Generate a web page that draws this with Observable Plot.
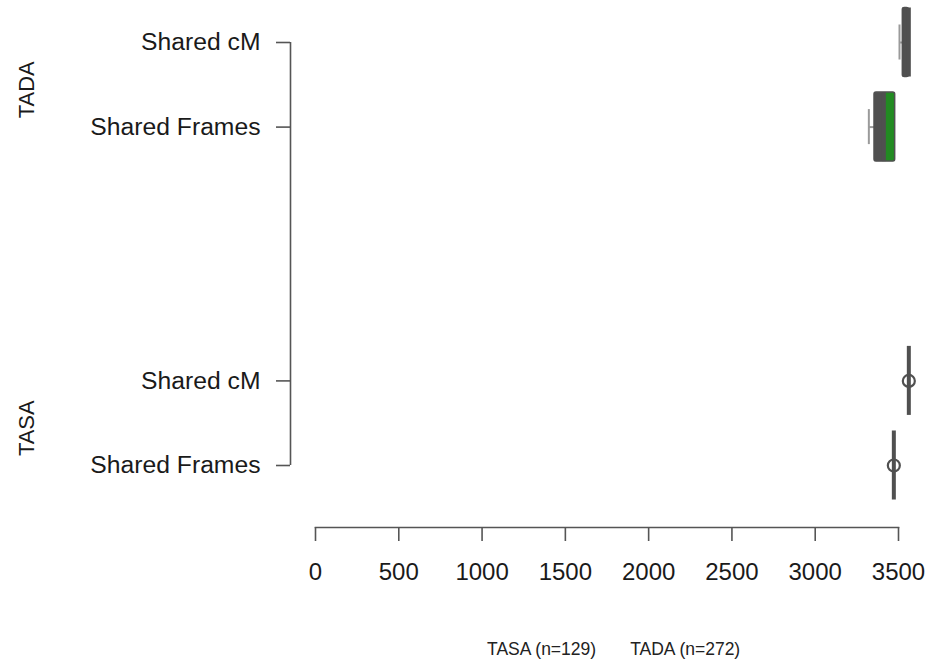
<!DOCTYPE html>
<html>
<head>
<meta charset="utf-8">
<script src="https://cdn.jsdelivr.net/npm/d3@7"></script>
<script src="https://cdn.jsdelivr.net/npm/@observablehq/plot@0.6"></script>
<style>
  body { margin: 0; background: #fff; font-family: Arial, "Liberation Sans", Helvetica, sans-serif; }
  #legend { height: 35px; padding-top: 7px; padding-left: 487px; font-size: 17.5px; color: #222; line-height: 35px; white-space: nowrap; }
  #legend span { margin-right: 34px; }
</style>
</head>
<body>
<div id="chart"></div>
<div id="legend"></div>
<script>
// ---- data ----
const groups = ["TADA", "TASA"];
const groupN = [272, 129];
const metrics = ["Shared cM", "Shared Frames"];
const rowGroup  = ["TADA", "TADA", "TASA", "TASA"];
const rowMetric = ["Shared cM", "Shared Frames", "Shared cM", "Shared Frames"];
const whiskerLow = [3506, 3322, 3562, 3472];
const q1         = [3526, 3356, 3562, 3472];
const median     = [3562, 3412, 3562, 3472];
const q3         = [3562, 3480, 3562, 3472];
const meanPt     = [NaN, NaN, 3562, 3472];
const xTicks = [0, 500, 1000, 1500, 2000, 2500, 3000, 3500];
const legendOrder = ["TASA", "TADA"];

// ---- build rows ----
const slotsPerGroup = 4; // two metric rows + two empty rows between groups
const rows = rowGroup.map((g, i) => ({
  group: g,
  metric: rowMetric[i],
  slot: groups.indexOf(g) * slotsPerGroup + metrics.indexOf(rowMetric[i]),
  lo: whiskerLow[i], q1: q1[i], median: median[i], q3: q3[i], mean: meanPt[i]
}));
const slots = rows.map(d => d.slot);
const slotLabel = new Map(rows.map(d => [d.slot, d.metric]));
const groupRows = groups.map(g => ({group: g, slot: d3.mean(rows.filter(r => r.group === g), r => r.slot)}));

const boxHalf = 0.408, capHalf = 0.207;
const dark = "#505050", green = "#228B22", whisk = "#9a9a9a", axisCol = "#555";

const height = 625;
const chart = Plot.plot({
  width: 925,
  height,
  marginLeft: 315,
  marginRight: 27,
  marginTop: 0,
  marginBottom: height - 527,
  style: { fontFamily: "Arial, 'Liberation Sans', Helvetica, sans-serif", color: "#1a1a1a", background: "#fff" },
  x: { domain: [0, 3500] },
  y: { type: "linear", domain: [d3.min(slots), d3.max(slots)], range: [42, 465] },
  marks: [
    // axes
    Plot.frame({ anchor: "bottom", stroke: axisCol, strokeWidth: 1.6 }),
    Plot.axisX({ ticks: xTicks, tickSize: 14, tickPadding: 21, fontSize: 24, stroke: axisCol, strokeWidth: 1.6, label: null, tickFormat: d => String(d) }),
    Plot.ruleX([0], { y1: d3.min(slots), y2: d3.max(slots), dx: -25, stroke: axisCol, strokeWidth: 1.6 }),
    Plot.axisY({ ticks: slots, tickFormat: s => slotLabel.get(s), tickSize: 14, tickPadding: 16, dx: -25, fontSize: 24.7, stroke: axisCol, strokeWidth: 1.6, label: null }),
    Plot.text(groupRows, { x: 0, y: "slot", text: "group", rotate: -90, dx: -289, dy: 5, fontSize: 22, fill: "#1a1a1a" }),
    // whiskers
    Plot.ruleY(rows, { y: "slot", x1: "lo", x2: "q1", stroke: whisk, strokeWidth: 2 }),
    Plot.ruleX(rows, { x: "lo", y1: d => d.slot - capHalf, y2: d => d.slot + capHalf, stroke: whisk, strokeWidth: 2 }),
    // boxes
    Plot.rect(rows, { x1: "median", x2: "q3", y1: d => d.slot - boxHalf, y2: d => d.slot + boxHalf, fill: green }),
    Plot.rect(rows, { x1: "q1", x2: "median", y1: d => d.slot - boxHalf, y2: d => d.slot + boxHalf, fill: dark }),
    Plot.rect(rows.filter(d => d.q3 > d.q1), { x1: "q1", x2: "q3", y1: d => d.slot - boxHalf, y2: d => d.slot + boxHalf, fill: "none", stroke: dark, strokeWidth: 1.5, rx: 2 }),
    // medians
    Plot.ruleX(rows, { x: "median", y1: d => d.slot - boxHalf, y2: d => d.slot + boxHalf, stroke: dark, strokeWidth: 4 }),
    // points
    Plot.dot(rows.filter(d => !isNaN(d.mean)), { x: "mean", y: "slot", r: 6, stroke: dark, strokeWidth: 2.2, fill: "none" })
  ]
});
document.getElementById("chart").append(chart);

const byGroup = new Map(groups.map((g, i) => [g, groupN[i]]));
document.getElementById("legend").innerHTML = legendOrder.map(g => `<span>${g} (n=${byGroup.get(g)})</span>`).join("");
</script>
</body>
</html>
